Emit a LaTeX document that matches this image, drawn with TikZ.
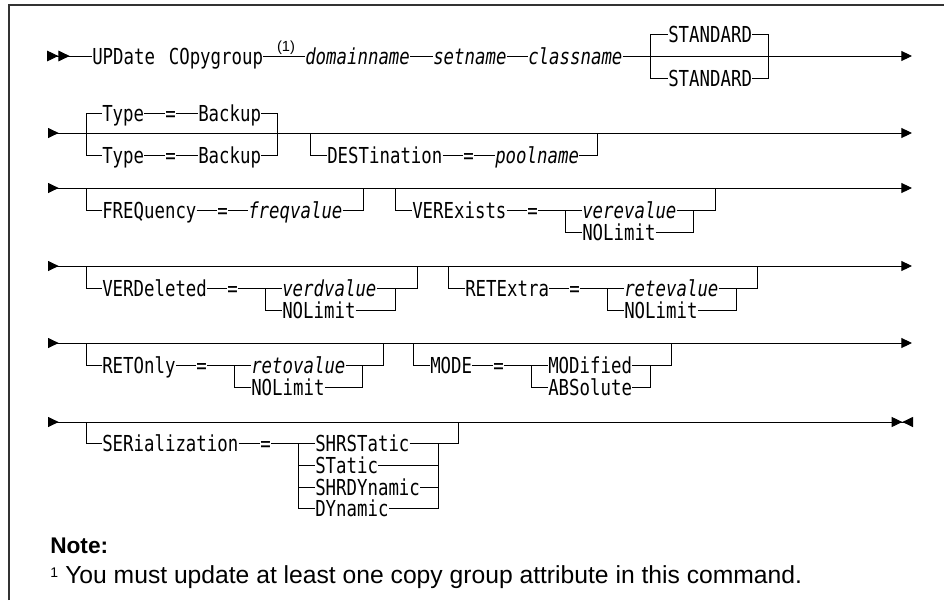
\documentclass[tikz,border=0pt]{standalone}
\usepackage{fontspec}
\usepackage{tikz}
\usetikzlibrary{arrows.meta}

\newfontfamily\railfont{DejaVu Sans Mono}[FakeStretch=0.79,ItalicFont={DejaVu Sans Mono Oblique}]
\newfontfamily\notefont{Liberation Sans}
\newcommand\synfont{\railfont\fontsize{16.5}{19}\selectfont}

\tikzset{
    go/.tip={Triangle[length=8pt,width=7.5pt]},
    rin/.tip={Triangle[reversed,length=8pt,width=7.5pt]},
    rintwo/.tip={Triangle[reversed,length=8.5pt,width=8pt] Triangle[reversed,length=8.5pt,width=8pt]},
    stop/.tip={Triangle[length=8pt,width=7.5pt] Triangle[reversed,length=8pt,width=7.5pt]}
}

\begin{document}
\begin{tikzpicture}[x=0.75pt, y=-0.75pt,
    kw/.style={font=\synfont, inner sep=0pt, text height=12pt, text depth=0pt, anchor=west},
    var/.style={kw, font=\synfont\itshape},
    rail/.style={line width=0.7pt},
    fnmark/.style={font=\notefont\fontsize{10.5}{12}\selectfont, inner sep=0pt, anchor=base west},
    notetext/.style={font=\notefont\fontsize{18.5}{22}\selectfont, inner sep=0pt, anchor=base west}]

\useasboundingbox (0,0) rectangle (944,600);

% Frame (top and left only)
\draw[line width=1.3pt, black!80] (9,600) -- (9,5) -- (944,5);

% ROW 1: command and positional names
\begin{scope}[shift={(0,56)}]
    \coordinate (r1s) at (47,0);
    \coordinate (r1e) at (912,0);
    \node[kw] (upd) at (92,0) {UPDate\hspace{2.5pt} COpygroup};
    \node[font=\notefont\fontsize{11}{12}\selectfont, inner sep=0pt, anchor=south] (fn1) at (286,-1) {(1)};
    \node[var] (dom) at (305,0) {domainname};
    \node[var] (setn) at (433,0) {setname};
    \node[var] (cls) at (528,0) {classname};
    \node[kw] (std1) at (668,-22) {STANDARD};
    \node[kw] (std2) at (668,22) {STANDARD};
    \coordinate (j1a) at (650,0);
    \coordinate (j1b) at (768,0);
    \draw[rail, rintwo-] (r1s) -- (upd.west);
    \draw[rail] (upd.east) -- (dom.west) (dom.east) -- (setn.west) (setn.east) -- (cls.west);
    \draw[rail, -go] (cls.east) -- (r1e);
    \draw[rail] (j1a) |- (std1.west) (std1.east) -| (j1b);
    \draw[rail] (j1a) |- (std2.west) (std2.east) -| (j1b);
\end{scope}

% ROW 2: Type, DESTination
\begin{scope}[shift={(0,133)}]
    \coordinate (r2s) at (48,0);
    \coordinate (r2e) at (912,0);
    \draw[rail, rin-go] (r2s) -- (r2e);
    % Type = Backup (default above, choice below)
    \coordinate (j2a) at (86,0);
    \coordinate (j2b) at (277,0);
    \node[kw] (type1) at (102,-20) {Type};
    \node[kw] (eqt1) at (165,-20) {=};
    \node[kw] (bk1) at (198,-20) {Backup};
    \node[kw] (type2) at (102,22) {Type};
    \node[kw] (eqt2) at (165,22) {=};
    \node[kw] (bk2) at (198,22) {Backup};
    \draw[rail] (j2a) |- (type1.west) (type1.east) -- (eqt1.west) (eqt1.east) -- (bk1.west) (bk1.east) -| (j2b);
    \draw[rail] (j2a) |- (type2.west) (type2.east) -- (eqt2.west) (eqt2.east) -- (bk2.west) (bk2.east) -| (j2b);
    % DESTination = poolname
    \coordinate (j2c) at (310,0);
    \coordinate (j2d) at (597,0);
    \node[kw] (dest) at (327,22) {DESTination};
    \node[kw] (eqd) at (463,22) {=};
    \node[var] (pool) at (495,22) {poolname};
    \draw[rail] (j2c) |- (dest.west) (dest.east) -- (eqd.west) (eqd.east) -- (pool.west) (pool.east) -| (j2d);
\end{scope}

% ROW 3: FREQuency, VERExists
\begin{scope}[shift={(0,188)}]
    \coordinate (r3s) at (48,0);
    \coordinate (r3e) at (912,0);
    \draw[rail, rin-go] (r3s) -- (r3e);
    \coordinate (j3a) at (86,0);
    \coordinate (j3b) at (363,0);
    \node[kw] (freq) at (102,22) {FREQuency};
    \node[kw] (eqf) at (217,22) {=};
    \node[var] (freqv) at (248,22) {freqvalue};
    \draw[rail] (j3a) |- (freq.west) (freq.east) -- (eqf.west) (eqf.east) -- (freqv.west) (freqv.east) -| (j3b);
    \coordinate (j3c) at (395,0);
    \coordinate (j3d) at (715,0);
    \coordinate (k3a) at (565,22);
    \coordinate (k3b) at (693,22);
    \node[kw] (verex) at (412,22) {VERExists};
    \node[kw] (eqve) at (527,22) {=};
    \node[var] (verev) at (582,22) {verevalue};
    \node[kw] (nol3) at (582,44) {NOLimit};
    \draw[rail] (j3c) |- (verex.west) (verex.east) -- (eqve.west) (eqve.east) -- (verev.west) (verev.east) -| (j3d);
    \draw[rail] (k3a) |- (nol3.west) (nol3.east) -| (k3b);
\end{scope}

% ROW 4: VERDeleted, RETExtra
\begin{scope}[shift={(0,266)}]
    \coordinate (r4s) at (48,0);
    \coordinate (r4e) at (912,0);
    \draw[rail, rin-go] (r4s) -- (r4e);
    \coordinate (j4a) at (86,0);
    \coordinate (j4b) at (417,0);
    \coordinate (k4a) at (265,22);
    \coordinate (k4b) at (395,22);
    \node[kw] (verd) at (102,22) {VERDeleted};
    \node[kw] (eqvd) at (227,22) {=};
    \node[var] (verdv) at (282,22) {verdvalue};
    \node[kw] (nol4a) at (282,44) {NOLimit};
    \draw[rail] (j4a) |- (verd.west) (verd.east) -- (eqvd.west) (eqvd.east) -- (verdv.west) (verdv.east) -| (j4b);
    \draw[rail] (k4a) |- (nol4a.west) (nol4a.east) -| (k4b);
    \coordinate (j4c) at (448,0);
    \coordinate (j4d) at (757,0);
    \coordinate (k4c) at (607,22);
    \coordinate (k4d) at (736,22);
    \node[kw] (rete) at (465,22) {RETExtra};
    \node[kw] (eqre) at (569,22) {=};
    \node[var] (retev) at (624,22) {retevalue};
    \node[kw] (nol4b) at (624,44) {NOLimit};
    \draw[rail] (j4c) |- (rete.west) (rete.east) -- (eqre.west) (eqre.east) -- (retev.west) (retev.east) -| (j4d);
    \draw[rail] (k4c) |- (nol4b.west) (nol4b.east) -| (k4d);
\end{scope}

% ROW 5: RETOnly, MODE
\begin{scope}[shift={(0,343)}]
    \coordinate (r5s) at (48,0);
    \coordinate (r5e) at (912,0);
    \draw[rail, rin-go] (r5s) -- (r5e);
    \coordinate (j5a) at (86,0);
    \coordinate (j5b) at (383,0);
    \coordinate (k5a) at (234,22);
    \coordinate (k5b) at (362,22);
    \node[kw] (reto) at (102,22) {RETOnly};
    \node[kw] (eqro) at (196,22) {=};
    \node[var] (retov) at (251,22) {retovalue};
    \node[kw] (nol5) at (251,44) {NOLimit};
    \draw[rail] (j5a) |- (reto.west) (reto.east) -- (eqro.west) (eqro.east) -- (retov.west) (retov.east) -| (j5b);
    \draw[rail] (k5a) |- (nol5.west) (nol5.east) -| (k5b);
    \coordinate (j5c) at (413,0);
    \coordinate (j5d) at (671,0);
    \coordinate (k5c) at (531,22);
    \coordinate (k5d) at (650,22);
    \node[kw] (mode) at (430,22) {MODE};
    \node[kw] (eqmo) at (493,22) {=};
    \node[kw] (modi) at (548,22) {MODified};
    \node[kw] (abso) at (548,44) {ABSolute};
    \draw[rail] (j5c) |- (mode.west) (mode.east) -- (eqmo.west) (eqmo.east) -- (modi.west) (modi.east) -| (j5d);
    \draw[rail] (k5c) |- (abso.west) (abso.east) -| (k5d);
\end{scope}

% ROW 6: SERialization, end of statement
\begin{scope}[shift={(0,422)}]
    \coordinate (r6s) at (48,0);
    \coordinate (r6e) at (913,0);
    \draw[rail, rin-stop] (r6s) -- (r6e);
    \coordinate (j6a) at (86,0);
    \coordinate (j6b) at (458,0);
    \coordinate (k6a) at (298,21);
    \coordinate (k6b) at (438,21);
    \node[kw] (seri) at (102,21) {SERialization};
    \node[kw] (eqse) at (260,21) {=};
    \node[kw] (shrs) at (315,21) {SHRSTatic};
    \node[kw] (stat) at (315,43) {STatic};
    \node[kw] (shrd) at (315,65) {SHRDYnamic};
    \node[kw] (dyna) at (315,86) {DYnamic};
    \draw[rail] (j6a) |- (seri.west) (seri.east) -- (eqse.west) (eqse.east) -- (shrs.west) (shrs.east) -| (j6b);
    \foreach \opt in {stat,shrd,dyna}
        \draw[rail] (k6a) |- (\opt.west) (\opt.east) -| (k6b);
\end{scope}

% Note
\node[notetext, font=\notefont\bfseries\fontsize{17}{20}\selectfont] (note) at (50,553) {Note:};
\node[fnmark] (fnone) at (50,577) {1};
\node[notetext] (fntext) at (65,583) {You must update at least one copy group attribute in this command.};

\end{tikzpicture}
\end{document}
